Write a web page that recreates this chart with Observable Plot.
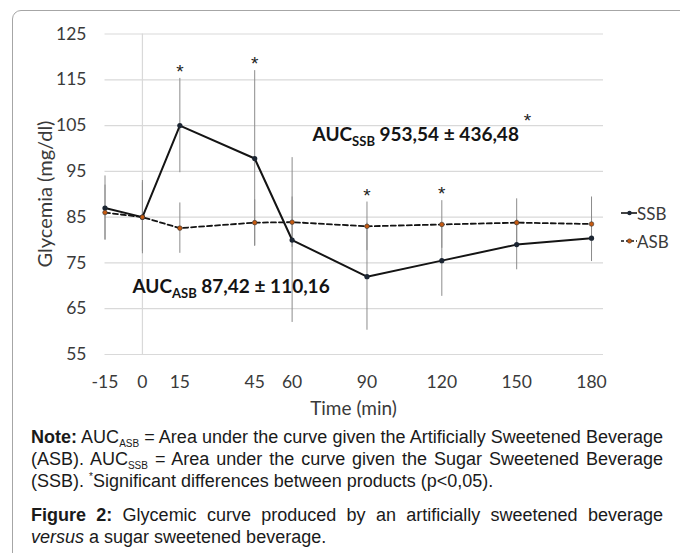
<!DOCTYPE html>
<html><head><meta charset="utf-8">
<script src="https://cdn.jsdelivr.net/npm/d3@7"></script>
<script src="https://cdn.jsdelivr.net/npm/@observablehq/plot@0.6"></script>
<style>
html,body{margin:0;padding:0;background:#fff;width:680px;height:553px;overflow:hidden;position:relative;}
#frame{position:absolute;left:12px;top:10px;width:720px;height:620px;border:1px solid #a6a6a6;border-radius:9px;box-sizing:border-box;}
#chart{position:absolute;left:0;top:0;}
.axlabel{position:absolute;font-family:Lato,sans-serif;font-size:19px;color:#3a3a3a;white-space:nowrap;transform:translate(-50%,-50%);}
#ylab{transform:translate(-50%,-50%) rotate(-90deg);font-size:20px;}
.leg{position:absolute;left:621px;font-family:Lato,sans-serif;font-size:17px;color:#3a3a3a;display:flex;align-items:center;height:20px;}
.leg svg{display:block;margin-right:0px;}
.cap{position:absolute;left:31px;width:632px;font-family:"Liberation Sans",Arial,sans-serif;font-size:18px;color:#1a1a1a;white-space:nowrap;}
.cap div{height:22px;line-height:22px;}
.j{text-align:justify;text-align-last:justify;}
.cap sub{font-size:10px;vertical-align:-4px;line-height:0;}
.cap sup{font-size:10px;vertical-align:7px;line-height:0;}
</style></head>
<body>
<div id="frame"></div>
<div id="chart"></div>
<div id="ylab" class="axlabel" style="left:43.5px;top:193.5px;">Glycemia (mg/dl)</div>
<div class="axlabel" style="left:353.5px;top:407px;">Time (min)</div>
<div id="legend"></div>
<div class="cap" style="top:426px;">
  <div class="j"><b>Note:</b> AUC<sub>ASB</sub> = Area under the curve given the Artificially Sweetened Beverage</div>
  <div class="j">(ASB). AUC<sub>SSB</sub> = Area under the curve given the Sugar Sweetened Beverage</div>
  <div>(SSB). <sup>*</sup>Significant differences between products (p&lt;0,05).</div>
</div>
<div class="cap" style="top:504px;">
  <div class="j"><b>Figure 2:</b> Glycemic curve produced by an artificially sweetened beverage</div>
  <div><i>versus</i> a sugar sweetened beverage.</div>
</div>
<script>
// ---- data ----
const times   = [-15, 0, 15, 45, 60, 90, 120, 150, 180];
const ssbMean = [87, 85, 105, 97.8, 80, 72, 75.5, 79, 80.4];
const ssbSD   = [7, 8, 10.3, 19.2, 18, 11.7, 7.8, 5.5, 5.1];
const asbMean = [86, 85, 82.6, 83.8, 83.9, 83, 83.4, 83.8, 83.5];
const asbSD   = [6, 7.5, 5.5, 5, 5.5, 5.3, 5.2, 5.2, 5.9];
const seriesNames = ["SSB", "ASB"];
const sigTimes = [15, 45, 90, 120];
const xTicks = [-15, 0, 15, 45, 60, 90, 120, 150, 180];
const yTicks = [55, 65, 75, 85, 95, 105, 115, 125];
const aucText = ["AUC_{SSB} 953,54 ± 436,48", "AUC_{ASB} 87,42 ± 110,16"];
const aucX = [68.2, -4.0];
const aucY = [102.9, 69.7];
const extraStarX = [154.3];
const extraStarY = [107.2];

// ---- build tables ----
const ssbRows = times.map((t, i) => ({series: "SSB", t, m: ssbMean[i], sd: ssbSD[i]}));
const asbRows = times.map((t, i) => ({series: "ASB", t, m: asbMean[i], sd: asbSD[i]}));
const allRows = ssbRows.concat(asbRows);
const stars = sigTimes.map(t => {
  const i = times.indexOf(t);
  return {t, y: Math.max(ssbMean[i] + ssbSD[i], asbMean[i] + asbSD[i]) + 2.6};
}).concat(extraStarX.map((x, i) => ({t: x, y: extraStarY[i]})));
const aucRows = aucText.map((s, i) => ({s, x: aucX[i], y: aucY[i]}));

const chart = Plot.plot({
  width: 680, height: 420,
  marginLeft: 104.5, marginRight: 77, marginTop: 33.5, marginBottom: 66,
  style: {fontFamily: "Lato, sans-serif", fontSize: "17.5px", color: "#3a3a3a", background: "transparent"},
  x: {type: "linear", domain: [-15, 184.8], ticks: xTicks, tickSize: 0, tickPadding: 21, label: null, tickFormat: d => String(d)},
  y: {type: "linear", domain: [55, 125], ticks: yTicks, tickSize: 0, tickPadding: 18.5, label: null},
  marks: [
    Plot.ruleY(yTicks, {stroke: "#d9d9d9", strokeWidth: 1.2}),
    Plot.ruleX([0], {stroke: "#d9d9d9", strokeWidth: 1.2}),
    Plot.ruleX(allRows, {x: "t", y1: d => d.m - d.sd, y2: d => d.m + d.sd, stroke: "#8c8c8c", strokeWidth: 1}),
    Plot.line(ssbRows, {x: "t", y: "m", stroke: "#141414", strokeWidth: 2}),
    Plot.line(asbRows, {x: "t", y: "m", stroke: "#141414", strokeWidth: 1.8, strokeDasharray: "5,3"}),
    Plot.dot(ssbRows, {x: "t", y: "m", r: 2.6, fill: "#1c2633", stroke: "none"}),
    Plot.dot(asbRows, {x: "t", y: "m", r: 2.3, fill: "#c55a11", stroke: "#333", strokeWidth: 0.6}),
    Plot.text(stars, {x: "t", y: "y", text: () => "*", fontSize: 19, fontFamily: "Liberation Sans, Arial, sans-serif", dy: 5.5, fill: "#222"}),
    Plot.text(aucRows, {x: "x", y: "y", text: "s", textAnchor: "start", fontSize: 19, fontWeight: "bold", fill: "#141414"})
  ]
});
document.getElementById("chart").appendChild(chart);

// subscripts in AUC labels
d3.select(chart).selectAll("text").each(function() {
  const txt = this.textContent;
  const m = /^(.*?)_\{(.*?)\}(.*)$/.exec(txt);
  if (!m) return;
  const sel = d3.select(this);
  sel.text(null);
  sel.append("tspan").text(m[1]);
  sel.append("tspan").attr("dy", 5).attr("font-size", 13).text(m[2]);
  sel.append("tspan").attr("dy", -5).text(m[3]);
});

// legend
const leg = d3.select("#legend");
seriesNames.forEach((name, i) => {
  const item = leg.append("div").attr("class", "leg").style("top", (i === 0 ? 203 : 231) + "px");
  const sv = item.append("svg").attr("width", 16).attr("height", 10);
  sv.append("line").attr("x1", 0).attr("x2", 16).attr("y1", 5).attr("y2", 5)
    .attr("stroke", "#141414").attr("stroke-width", i === 0 ? 1.6 : 1.4)
    .attr("stroke-dasharray", i === 0 ? null : "3,2");
  sv.append("circle").attr("cx", 8.5).attr("cy", 5).attr("r", 2.2)
    .attr("fill", i === 0 ? "#1c2633" : "#c55a11").attr("stroke", i === 0 ? "none" : "#333").attr("stroke-width", 0.5);
  item.append("span").text(name);
});
</script>
</body></html>
